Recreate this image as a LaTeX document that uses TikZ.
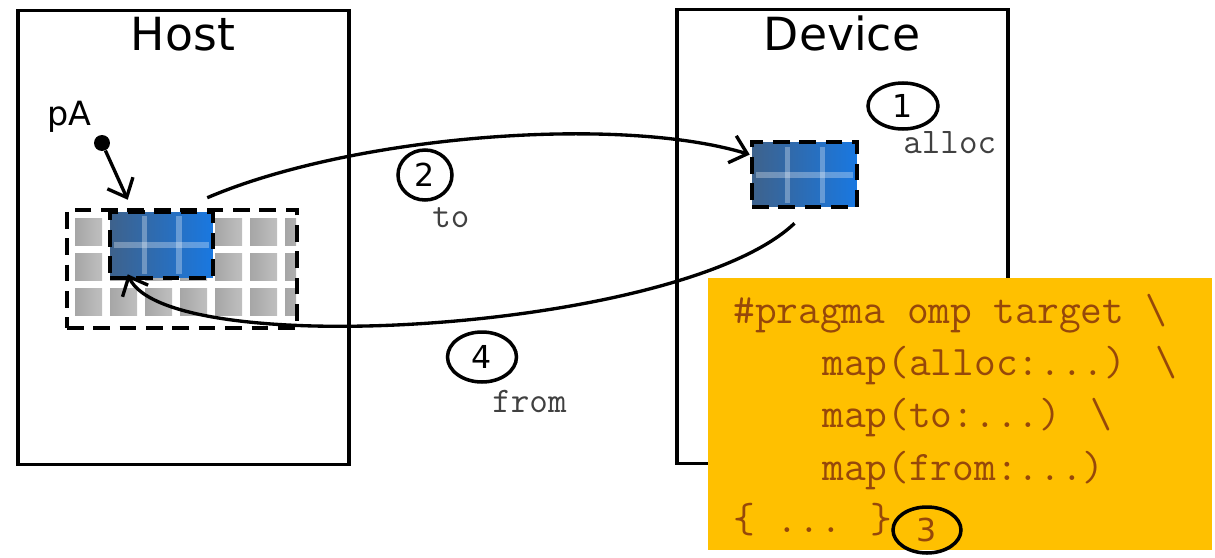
\documentclass[tikz,border=0pt]{standalone}
\usepackage{fontspec}
\setmainfont{DejaVu Sans}
\usetikzlibrary{arrows.meta,positioning,shapes.geometric}
\definecolor{codebg}{RGB}{255,192,0}
\definecolor{codefg}{RGB}{150,72,10}
\definecolor{blueL}{RGB}{62,98,140}
\definecolor{blueR}{RGB}{25,120,225}

\begin{document}
\begin{tikzpicture}[
  x=0.02cm, y=-0.02cm,
  box/.style={draw, line width=2.2pt, minimum width=6.62cm, minimum height=9.08cm, inner sep=0pt},
  title/.style={font=\fontsize{26}{30}\selectfont, anchor=base},
  num/.style={draw, ellipse, line width=2pt, inner sep=0pt, font=\fontsize{18}{20}\selectfont},
  kw/.style={font=\ttfamily\fontsize{20.5}{22}\selectfont, text=black!75, anchor=base west, inner sep=0pt},
  code/.style={font=\ttfamily\fontsize{24}{26}\selectfont, text=codefg, anchor=base west, inner sep=0pt},
  dashbox/.style={draw, line width=2.6pt, dash pattern=on 9.5pt off 5.5pt, inner sep=0pt},
  blockfill/.style={left color=blueL, right color=blueR},
  sep/.style={white, opacity=0.3, line width=3pt},
  flow/.style={line width=1.9pt, -{Straight Barb[length=9pt,width=16pt]}}
]
\useasboundingbox (0,0) rectangle (1215,558);

% host and device
\node[box] (host) at (183.5,237.5) {};
\node[box] (device) at (842.5,236.5) {};
\node[title] (hostlbl) at (183,50) {Host};
\node[title] (devlbl) at (842,50) {Device};

% host array
\begin{scope}
  \clip (67,210) rectangle (296,328);
  \foreach \c in {0,...,6}
    \foreach \r in {0,1,2}
      \shade[left color=gray!70, right color=gray!50] ({75+35*\c},{218+35*\r}) rectangle +(27,27);
\end{scope}
\node[dashbox, minimum width=4.6cm, minimum height=2.36cm] (hostgrid) at (182,269) {};

\node[dashbox, blockfill, minimum width=2.06cm, minimum height=1.32cm] (hostdata) at (161.5,245) {};
\foreach \x in {144.5,179} \draw[sep] (\x,216) -- (\x,274);
\draw[sep] (114,245) -- (209,245);

% device copy
\node[dashbox, blockfill, minimum width=2.1cm, minimum height=1.3cm] (devdata) at (804.5,174.5) {};
\foreach \x in {787.5,822.5} \draw[sep] (\x,147) -- (\x,203);
\draw[sep] (756,175) -- (853,175);

% pointer
\node[font=\fontsize{19}{21}\selectfont, anchor=base west, inner sep=0pt] (pAlbl) at (47,125) {pA};
\node[circle, fill, inner sep=0pt, minimum size=0.32cm] (pAdot) at (102,143) {};
\draw[flow] (pAdot) -- ([shift={(20,-10)}]hostdata.north west);

% pragma
\node[fill=codebg, minimum width=10.08cm, minimum height=5.44cm, inner sep=0pt] (pragma) at (960,414) {};
\node[code] (l1) at (733,323) {\#pragma omp target \textbackslash};
\node[code] (l2) at (822,375) {map(alloc:...) \textbackslash};
\node[code] (l3) at (822,427) {map(to:...) \textbackslash};
\node[code] (l4) at (822,480) {map(from:...)};
\node[code] (l5) at (733,532) {\{ ... \}};

% transfers
\draw[flow] ([shift={(-8,-12)}]hostdata.north east) .. controls +(145,-62) and +(-132,-40) .. (devdata.160);
\draw[flow] ([shift={(-10,14)}]devdata.south) .. controls +(-113,108) and +(40,88) .. ([shift={(20,-6)}]hostdata.south west);

% steps
\node[num, minimum width=1.4cm, minimum height=0.92cm] (s1) at (903,106) {1};
\node[kw] (alloclbl) at (903,153) {alloc};
\node[num, minimum width=1.08cm, minimum height=1.0cm] (s2) at (425,175) {2};
\node[kw] (tolbl) at (432,227) {to};
\node[num, text=codefg, minimum width=1.36cm, minimum height=0.92cm] (s3) at (927,530) {3};
\node[num, minimum width=1.38cm, minimum height=1.0cm] (s4) at (482,357) {4};
\node[kw] (fromlbl) at (492,412) {from};
\end{tikzpicture}
\end{document}
